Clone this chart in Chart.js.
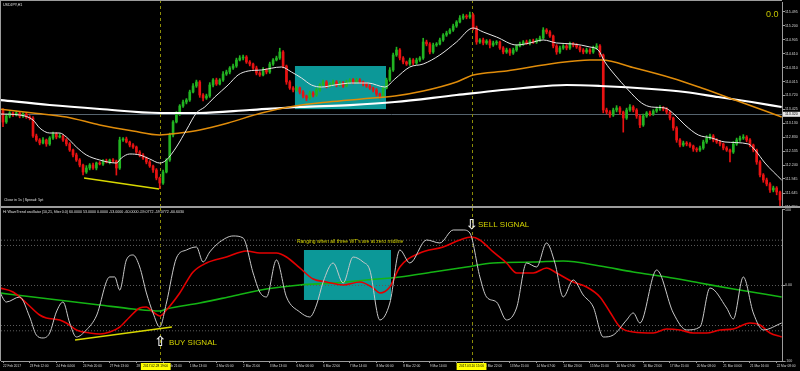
<!DOCTYPE html>
<html>
<head>
<meta charset="utf-8">
<script src="https://cdn.jsdelivr.net/npm/chart.js@4.4.1/dist/chart.umd.min.js"></script>
<style>
  html, body { margin: 0; padding: 0; background: #000; }
  #wrap { position: relative; width: 800px; height: 371px; overflow: hidden; background: #000; }
  #price { position: absolute; left: 0; top: 0; }
  #osc { position: absolute; left: 0; top: 208px; }
</style>
</head>
<body>
<div id="wrap">
  <canvas id="price" width="800" height="208"></canvas>
  <canvas id="osc" width="800" height="163"></canvas>
</div>
<script>
// x axis = H1 bar number, one label every 16 bars
const timeLabels = ['22 Feb 2017','23 Feb 12:00','24 Feb 04:00','24 Feb 20:00','27 Feb 13:00','28 Feb 05:00','28 Feb 21:00','1 Mar 13:00','2 Mar 05:00','2 Mar 21:00','3 Mar 13:00','6 Mar 06:00','6 Mar 22:00','7 Mar 14:00','8 Mar 06:00','8 Mar 22:00','9 Mar 14:00','10 Mar 06:00','10 Mar 22:00','13 Mar 15:00','14 Mar 07:00','14 Mar 23:00','15 Mar 15:00','16 Mar 07:00','16 Mar 23:00','17 Mar 15:00','20 Mar 08:00','21 Mar 00:00','21 Mar 16:00','22 Mar 08:00'];
const priceTicks = [115.495,115.200,114.905,114.610,114.310,114.015,113.720,113.425,113.130,112.830,112.535,112.240,111.945,111.645,111.350];
const oscTicks = [100, 0, -100];
const oscTickText = ['100', '0.00', '-100'];
const oscLevels = [60, 53, 0, -53, -60];

// USDJPY candles (one every 2 bars), open = previous close
const firstOpen = 113.411;
const closes = [
  113.156,113.284,113.348,113.305,113.348,113.284,113.326,113.263,113.241,112.859,
  112.774,112.710,112.774,112.689,112.816,112.901,112.837,112.859,112.774,112.689,
  112.561,112.455,112.348,112.242,112.093,112.178,112.242,112.178,112.285,112.263,
  112.327,112.306,112.348,112.327,112.178,112.774,112.795,112.731,112.667,112.625,
  112.518,112.455,112.391,112.306,112.221,112.136,111.966,111.859,112.093,112.348,
  112.880,113.156,113.326,113.496,113.581,113.624,113.794,113.922,114.007,113.730,
  113.667,113.709,113.943,114.049,113.964,114.049,114.177,114.219,114.304,114.347,
  114.474,114.517,114.538,114.432,114.389,114.304,114.198,114.156,114.262,114.219,
  114.389,114.474,114.517,114.645,114.347,114.007,113.879,113.837,113.879,113.794,
  113.709,113.667,113.773,113.730,113.837,113.943,114.007,113.922,113.964,114.007,
  113.943,113.985,113.922,114.007,114.049,114.007,114.049,114.007,113.964,113.922,
  113.879,113.837,113.752,113.709,113.879,114.049,114.262,114.581,114.687,114.517,
  114.432,114.389,114.474,114.411,114.474,114.517,114.857,114.815,114.645,114.793,
  114.815,114.900,115.006,115.048,115.112,115.197,115.282,115.367,115.410,115.389,
  115.431,115.155,114.857,114.900,114.836,114.878,114.793,114.836,114.857,114.730,
  114.645,114.687,114.623,114.687,114.772,114.815,114.857,114.836,114.878,114.857,
  114.900,114.942,115.112,115.070,114.985,114.772,114.645,114.730,114.772,114.730,
  114.815,114.793,114.751,114.687,114.645,114.687,114.645,114.730,114.772,114.581,
  113.411,113.369,113.305,113.411,113.454,113.369,113.241,113.411,113.475,113.411,
  113.284,113.093,113.284,113.348,113.326,113.390,113.433,113.454,113.433,113.369,
  113.241,113.029,112.774,112.667,112.710,112.689,112.646,112.582,112.561,112.604,
  112.731,112.816,112.859,112.774,112.731,112.689,112.604,112.561,112.518,112.689,
  112.774,112.816,112.837,112.774,112.667,112.561,112.306,112.030,111.924,111.838,
  111.711,111.753,111.668,111.498
];
// wick lengths in pips above / below the body
const wickUp = [
  3,4,3,2,4,3,3,2,3,3, 4,3,5,2,3,4,3,5,2,3, 3,2,4,3,2,5,3,4,2,3, 3,4,2,3,2,6,3,4,2,3,
  2,3,3,2,3,2,3,2,4,3, 4,3,5,3,4,3,4,5,4,3, 3,4,5,3,4,3,5,4,3,4, 4,5,4,3,3,2,4,3,5,3,
  4,3,4,8,3,2,3,3,4,2, 3,2,4,3,4,3,4,3,3,4, 3,4,3,4,3,3,4,3,2,3, 3,2,3,2,4,4,5,4,6,3,
  3,2,4,3,4,3,8,4,3,4, 3,4,3,4,3,4,3,5,4,3, 6,3,4,3,4,3,3,4,3,2, 3,4,3,4,3,4,3,4,3,4,
  3,4,5,3,3,2,3,4,3,3, 4,3,3,2,3,4,3,4,5,3, 2,4,3,4,5,3,2,4,5,3, 3,2,4,3,4,3,4,5,3,3,
  2,2,3,3,4,3,3,2,3,4, 4,5,4,3,3,3,2,3,2,5, 4,4,5,3,3,2,2,3,3,4, 3,4,3,2
];
const wickDn = [
  10,3,4,3,2,4,3,3,4,3, 3,4,2,5,3,3,4,2,3,4, 3,4,3,4,6,3,4,3,4,2, 3,2,4,3,15,3,3,2,4,3,
  3,4,3,4,3,5,4,12,3,2, 3,4,2,3,3,4,3,2,3,5, 6,3,3,4,3,2,3,3,4,3, 3,2,4,3,4,3,4,3,2,4,
  3,3,2,3,4,5,3,4,3,4, 4,6,3,4,3,3,2,4,3,3, 4,3,3,2,3,4,3,3,4,3, 3,4,4,5,3,2,3,3,3,4,
  4,3,3,4,3,3,3,4,4,3, 3,2,3,3,2,3,3,2,3,4, 3,4,5,3,4,3,6,3,4,3, 4,3,5,3,3,2,3,3,4,3,
  3,3,2,4,3,4,5,3,3,4, 3,4,3,4,4,3,4,3,3,4, 6,4,5,3,4,5,30,3,3,4, 5,6,3,3,4,3,3,3,4,4,
  4,5,5,4,3,4,3,5,4,3, 3,3,3,4,3,4,4,3,21,3, 3,3,3,4,4,4,5,4,5,4, 5,4,6,12
];

// moving averages [bar, price]
const fastMa = [[-2,113.326],[10,113.305],[18,113.199],[22,113.029],[28,112.922],[34,112.922],[38,112.837],[44,112.625],[50,112.455],[58,112.348],[68,112.284],[71,112.391],[76,112.476],[82,112.455],[88,112.370],[94,112.284],[98,112.348],[104,112.625],[110,112.986],[116,113.348],[121,113.475],[127,113.688],[135,113.943],[141,114.156],[147,114.240],[155,114.262],[167,114.326],[173,114.219],[179,114.092],[185,113.943],[191,113.900],[199,113.943],[209,113.985],[219,113.985],[229,113.900],[235,114.070],[244,114.326],[252,114.389],[262,114.581],[272,114.857],[282,115.155],[288,115.070],[296,114.963],[308,114.793],[316,114.836],[324,114.900],[332,114.836],[342,114.815],[352,114.751],[357,114.687],[361,114.432],[367,114.156],[375,113.837],[383,113.560],[389,113.475],[397,113.454],[403,113.305],[409,113.093],[417,112.880],[425,112.816],[433,112.731],[447,112.689],[451,112.561],[457,112.284],[467,111.923]];
const orangeMa = [[-2,113.433],[18,113.348],[38,113.263],[58,113.093],[78,112.965],[94,112.880],[106,112.922],[118,112.986],[135,113.135],[155,113.348],[175,113.496],[195,113.581],[215,113.645],[235,113.709],[252,113.815],[272,114.007],[282,114.156],[302,114.240],[332,114.411],[352,114.474],[359,114.474],[379,114.304],[401,114.092],[419,113.879],[439,113.624],[467,113.263]];
const slowMa = [[-2,113.624],[28,113.517],[58,113.433],[94,113.348],[118,113.348],[148,113.411],[178,113.475],[208,113.517],[235,113.581],[272,113.730],[312,113.879],[338,113.943],[358,113.922],[389,113.858],[409,113.794],[429,113.688],[449,113.581],[467,113.475]];

// WaveTrend oscillator [bar, value]
const wtWhite = [[-2,-8.6],[2,-21.9],[10,-15.2],[16,-41.7],[20,-65.6],[24,-69.5],[28,-62.9],[32,-35.1],[36,-21.9],[40,-49.7],[44,-68.2],[50,-58.9],[56,-40.4],[64,11.3],[67,11.3],[70,-6],[74,33.8],[78,40.4],[82,24.5],[86,-9.9],[90,-36.4],[94,-55],[98,-23.2],[104,36.4],[110,47],[116,51],[120,31.1],[124,44.4],[130,57.6],[138,65.6],[144,62.9],[150,16.6],[154,-8.6],[158,-15.2],[164,33.8],[170,-15.2],[178,-35.1],[184,-41.7],[188,-25.8],[192,4.6],[198,29.8],[204,3.3],[210,37.7],[216,31.1],[220,20.5],[226,-45.7],[232,-23.2],[238,47],[244,29.8],[254,60.3],[262,56.3],[270,73.5],[276,73.5],[280,69.5],[286,11.3],[290,-15.2],[296,-21.9],[302,-45.7],[308,-29.8],[314,29.8],[320,24.5],[326,56.3],[331,29.8],[336,-15.2],[342,7.3],[348,-12.6],[354,-28.5],[360,-68.2],[366,-65.6],[374,-45.7],[378,-36.4],[382,-49.7],[392,20.5],[402,-36.4],[410,-58.9],[418,-55],[424,-3.3],[434,-29.8],[438,-44.4],[444,11.3],[450,-36.4],[456,-58.9],[467,-49.7]];
const wtRed = [[-2,-3.3],[6,-8.6],[14,-23.2],[22,-39.1],[26,-43],[34,-45.7],[38,-49.7],[44,-58.9],[52,-62.9],[58,-64.2],[64,-61.6],[70,-55],[76,-41.7],[82,-29.8],[86,-28.5],[90,-35.1],[94,-40.4],[98,-32.5],[106,-9.9],[114,17.9],[122,29.8],[134,37.7],[146,45.7],[154,43],[164,43],[170,37.7],[178,23.2],[186,8.6],[194,4.6],[204,0.7],[214,4.6],[222,-3.3],[226,-9.9],[232,-2],[238,24.5],[250,43],[264,51],[274,60.3],[281,64.2],[286,60.3],[294,44.4],[302,29.8],[308,16.6],[318,16.6],[326,23.2],[332,16.6],[342,4.6],[350,-2],[358,-15.2],[364,-35.1],[370,-55],[378,-61.6],[390,-62.9],[398,-57.6],[406,-58.9],[414,-62.9],[422,-62.9],[430,-58.9],[438,-57.6],[448,-49.7],[454,-52.3],[460,-62.9],[467,-68.2]];
const wtGreen = [[-2,-9.9],[18,-15.2],[38,-20.5],[58,-25.8],[78,-31.1],[94,-33.8],[98,-31.1],[118,-23.2],[138,-13.9],[158,-4.6],[178,0.7],[198,3.3],[218,7.3],[238,11.3],[258,17.9],[278,24.5],[294,29.8],[318,31.1],[336,32.5],[358,25.8],[378,17.9],[398,11.3],[418,3.3],[438,-4.6],[467,-15.2]];

// drawings
const priceTrend = [[48.6,111.966],[93.6,111.732]];
const oscTrend = [[43.2,-72.2],[101.3,-55]];
const priceBox = [175.1, 229.7, 114.347, 113.43];
const oscBox = [180.5, 232.7, 47, -19.2];
const signalBars = [94, 281];
const signalStamps = ['2017.02.28 19:00', '2017.03.10 15:00'];
const bidPrice = 113.32;
const xMin = -1.2, xMax = 467.2;

const tiny = '"Liberation Sans", Arial, sans-serif';

function pts(arr) { return arr.map(p => ({ x: p[0], y: p[1] })); }

function lineSet(arr, color, width, order, extra) {
    return Object.assign({
        type: 'line', data: pts(arr), borderColor: color, borderWidth: width,
        pointRadius: 0, fill: false, cubicInterpolationMode: 'monotone', order: order
    }, extra || {});
}

// candles as floating bars
const bodies = [], wicks = [], candleColors = [];
closes.forEach((c, i) => {
    const o = i === 0 ? firstOpen : closes[i - 1];
    bodies.push({ x: i * 2, y: [o, c] });
    wicks.push({ x: i * 2, y: [Math.min(o, c) - wickDn[i] / 100, Math.max(o, c) + wickUp[i] / 100] });
    candleColors.push(c >= o ? '#22b422' : '#e81212');
});

function drawSignalLines(chart) {
    const { ctx, chartArea: a, scales: { x } } = chart;
    ctx.save();
    ctx.strokeStyle = '#8c8c08';
    ctx.lineWidth = 1;
    ctx.setLineDash([3, 3]);
    signalBars.forEach(b => {
        const px = Math.round(x.getPixelForValue(b)) + 0.5;
        ctx.beginPath();
        ctx.moveTo(px, 0);
        ctx.lineTo(px, a.bottom);
        ctx.stroke();
    });
    ctx.restore();
}

function drawBox(chart, box) {
    const { ctx, scales: { x, y } } = chart;
    const x1 = x.getPixelForValue(box[0]), x2 = x.getPixelForValue(box[1]);
    const y1 = y.getPixelForValue(box[2]), y2 = y.getPixelForValue(box[3]);
    ctx.save();
    ctx.fillStyle = '#0c9898';
    ctx.fillRect(x1, y1, x2 - x1, y2 - y1);
    ctx.restore();
}

const pricePaint = {
    id: 'pricePaint',
    beforeDatasetsDraw(chart) {
        const { ctx, chartArea: a, scales: { y } } = chart;
        drawBox(chart, priceBox);
        const by = Math.round(y.getPixelForValue(bidPrice)) + 0.5;
        ctx.save();
        ctx.strokeStyle = '#56646f';
        ctx.lineWidth = 1;
        ctx.beginPath();
        ctx.moveTo(a.left, by);
        ctx.lineTo(a.right, by);
        ctx.stroke();
        ctx.restore();
        drawSignalLines(chart);
    },
    afterDraw(chart) {
        const { ctx, chartArea: a, scales: { y } } = chart;
        ctx.save();
        ctx.fillStyle = '#9c9c9c';
        ctx.fillRect(0, 0, a.right, 1);
        ctx.fillRect(0, 0, 1, 208);
        ctx.fillRect(0, 206, 800, 2);
        // bid label on the axis
        const by = y.getPixelForValue(bidPrice);
        ctx.fillStyle = '#e8e8e8';
        ctx.fillRect(a.right + 1, by - 2.5, 17, 5);
        ctx.fillStyle = '#000';
        ctx.font = '3.6px ' + tiny;
        ctx.textBaseline = 'middle';
        ctx.fillText(bidPrice.toFixed(3), a.right + 3, by);
        ctx.fillStyle = '#e0e0e0';
        ctx.fillText('USDJPY,H1', 3, 4.5);
        ctx.fillText('Close in 1s | Spread: 5pt', 4, 199.5);
        ctx.fillStyle = '#c4c400';
        ctx.font = '9px ' + tiny;
        ctx.fillText('0.0', 766, 14.5);
        ctx.restore();
    }
};

const oscPaint = {
    id: 'oscPaint',
    beforeDatasetsDraw(chart) {
        drawBox(chart, oscBox);
        drawSignalLines(chart);
    },
    afterDraw(chart) {
        const { ctx, chartArea: a, scales: { x, y } } = chart;
        ctx.save();
        ctx.fillStyle = '#9c9c9c';
        ctx.fillRect(0, 0, 1, a.bottom);
        ctx.textBaseline = 'middle';
        ctx.font = '3.6px ' + tiny;
        ctx.fillStyle = '#e0e0e0';
        ctx.fillText('Hi WaveTrend oscillator (10,21, filter 0.0) 60.0000 53.0000 0.0000 -53.0000 -60.0000 -59.0772 -59.0772 -60.6030', 3, 3.5);

        ctx.fillStyle = '#d4d400';
        ctx.font = '5px ' + tiny;
        ctx.fillText("Ranging when all three WT's are at zero midline", x.getPixelForValue(176.3), y.getPixelForValue(57.6));

        ctx.font = '8px ' + tiny;
        ctx.fillText('BUY SIGNAL', x.getPixelForValue(99.5), y.getPixelForValue(-76.2));
        ctx.fillText('SELL SIGNAL', x.getPixelForValue(284.9), y.getPixelForValue(80.1));

        ctx.fillStyle = '#f0f0f0';
        ctx.font = 'bold 14px "DejaVu Sans"';
        ctx.textAlign = 'center';
        ctx.fillText('\u21E7', x.getPixelForValue(94.2), y.getPixelForValue(-74.8));
        ctx.fillText('\u21E9', x.getPixelForValue(281), y.getPixelForValue(80.1));

        // crosshair date stamps on the time axis
        ctx.font = '3.2px ' + tiny;
        const shifts = [-4, 0];
        signalBars.forEach((b, i) => {
            const cx = x.getPixelForValue(b) + shifts[i];
            const w = ctx.measureText(signalStamps[i]).width + 5;
            ctx.fillStyle = '#ffff00';
            ctx.fillRect(cx - w / 2, a.bottom + 2, w, 7);
            ctx.fillStyle = '#000';
            ctx.fillText(signalStamps[i], cx, a.bottom + 5.5);
        });
        ctx.restore();
    }
};

new Chart(document.getElementById('price'), {
    type: 'bar',
    data: {
        datasets: [
            lineSet(fastMa, '#e6e6e6', 1, 0),
            lineSet(orangeMa, '#e08c0a', 1.5, 1),
            lineSet(slowMa, '#ffffff', 2.2, 2),
            lineSet(priceTrend, '#d8d800', 1.5, 0, { cubicInterpolationMode: 'default', tension: 0 }),
            { type: 'bar', data: bodies, backgroundColor: candleColors, barThickness: 2, minBarLength: 1, grouped: false, order: 5 },
            { type: 'bar', data: wicks, backgroundColor: candleColors, barThickness: 1, grouped: false, order: 6 }
        ]
    },
    options: {
        responsive: false,
        animation: false,
        events: [],
        layout: { padding: { left: 1, top: 2, right: 0, bottom: 1 } },
        plugins: { legend: { display: false }, tooltip: { enabled: false } },
        scales: {
            x: { type: 'linear', min: xMin, max: xMax, display: false, offset: false, grid: { offset: false } },
            y: {
                type: 'linear', position: 'right', min: 111.349, max: 115.7075,
                afterBuildTicks: s => { s.ticks = priceTicks.map(v => ({ value: v })); },
                afterFit: s => { s.width = 18; s.paddingTop = 0; s.paddingBottom = 0; },
                ticks: { color: '#d8d8d8', padding: 0, font: { family: tiny, size: 3.6 }, callback: v => v.toFixed(3) },
                grid: { drawOnChartArea: false, tickLength: 3, color: '#9c9c9c' },
                border: { color: '#9c9c9c' }
            }
        }
    },
    plugins: [pricePaint]
});

const levelSets = oscLevels.map(v => lineSet([[xMin, v], [xMax, v]], '#5c5c5c', 1, 9, { borderDash: [1, 2], cubicInterpolationMode: 'default' }));

new Chart(document.getElementById('osc'), {
    type: 'line',
    data: {
        datasets: [
            lineSet(oscTrend, '#d8d800', 1.5, 0, { cubicInterpolationMode: 'default' }),
            lineSet(wtWhite, '#c8c8c8', 1, 1),
            lineSet(wtRed, '#e40000', 1.6, 2),
            lineSet(wtGreen, '#14b414', 1.6, 3)
        ].concat(levelSets)
    },
    options: {
        responsive: false,
        animation: false,
        events: [],
        layout: { padding: { left: 1, top: 1, right: 0, bottom: 0 } },
        plugins: { legend: { display: false }, tooltip: { enabled: false } },
        scales: {
            x: {
                type: 'linear', min: xMin, max: xMax, offset: false,
                afterBuildTicks: s => { s.ticks = timeLabels.map((t, i) => ({ value: i * 16 })); },
                afterFit: s => { s.height = 10; s.paddingLeft = 0; s.paddingRight = 0; },
                ticks: { autoSkip: false, maxRotation: 0, minRotation: 0, align: 'start', padding: 1, color: '#d8d8d8', font: { family: tiny, size: 3.2 }, callback: (v, i) => timeLabels[i] },
                grid: { drawOnChartArea: false, tickLength: 2, color: '#9c9c9c', offset: false },
                border: { color: '#9c9c9c' }
            },
            y: {
                type: 'linear', position: 'right', min: -100, max: 101.3,
                afterBuildTicks: s => { s.ticks = oscTicks.map(v => ({ value: v })); },
                afterFit: s => { s.width = 18; s.paddingTop = 0; s.paddingBottom = 0; },
                ticks: { color: '#d8d8d8', padding: 0, font: { family: tiny, size: 3.6 }, callback: (v, i) => oscTickText[i] },
                grid: { drawOnChartArea: false, tickLength: 3, color: '#9c9c9c' },
                border: { color: '#9c9c9c' }
            }
        }
    },
    plugins: [oscPaint]
});
</script>
</body>
</html>
